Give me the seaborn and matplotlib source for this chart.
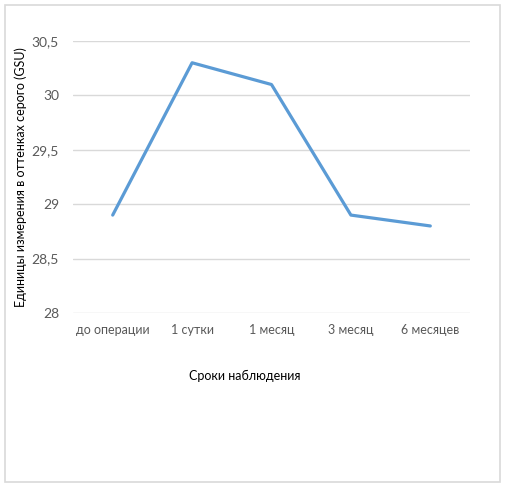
import matplotlib
matplotlib.use("Agg")
import matplotlib.pyplot as plt
import seaborn as sns
import pandas as pd
from matplotlib.patches import Rectangle
from matplotlib.ticker import FuncFormatter

# данные
periods = ["до операции", "1 сутки", "1 месяц", "3 месяц", "6 месяцев"]
gsu = [28.9, 30.3, 30.1, 28.9, 28.8]
y_ticks = [28, 28.5, 29, 29.5, 30, 30.5]

df = pd.DataFrame({"period": periods, "gsu": gsu})

sns.set_style("white")
plt.rcParams["font.family"] = ["Lato", "DejaVu Sans"]

fig = plt.figure(figsize=(5.07, 4.88), dpi=100)
ax = fig.add_axes([73 / 507, 1 - 313 / 488, 397 / 507, 272 / 488])

sns.lineplot(data=df, x="period", y="gsu", ax=ax, color="#5B9BD5", linewidth=2.3)

ax.set_xlim(-0.5, len(periods) - 0.5)
ax.set_ylim(28, 30.5)
ax.set_yticks(y_ticks)
ax.yaxis.set_major_formatter(FuncFormatter(lambda v, p: f"{v:g}".replace(".", ",")))
ax.grid(axis="y", color="#D9D9D9", linewidth=1)
ax.set_axisbelow(True)
for s in ax.spines.values():
    s.set_visible(False)
ax.tick_params(axis="x", length=0, labelsize=9, labelcolor="#595959", pad=8)
ax.tick_params(axis="y", length=0, labelsize=10, labelcolor="#595959", pad=10)
ax.set_xlabel("Сроки наблюдения", fontsize=9, color="black")
ax.set_ylabel("Единицы измерения в оттенках серого (GSU)", fontsize=9, color="black")
ax.xaxis.set_label_coords((245 - 73) / 397, -0.21)
ax.yaxis.set_label_coords(-0.117, 0.5)

fig.patches.append(Rectangle((4.5 / 507, 1 - 481.5 / 488), 495.5 / 507, 477 / 488,
                             transform=fig.transFigure, fill=False,
                             edgecolor="#D9D9D9", linewidth=1.2))

fig.savefig("out.png", dpi=100)
